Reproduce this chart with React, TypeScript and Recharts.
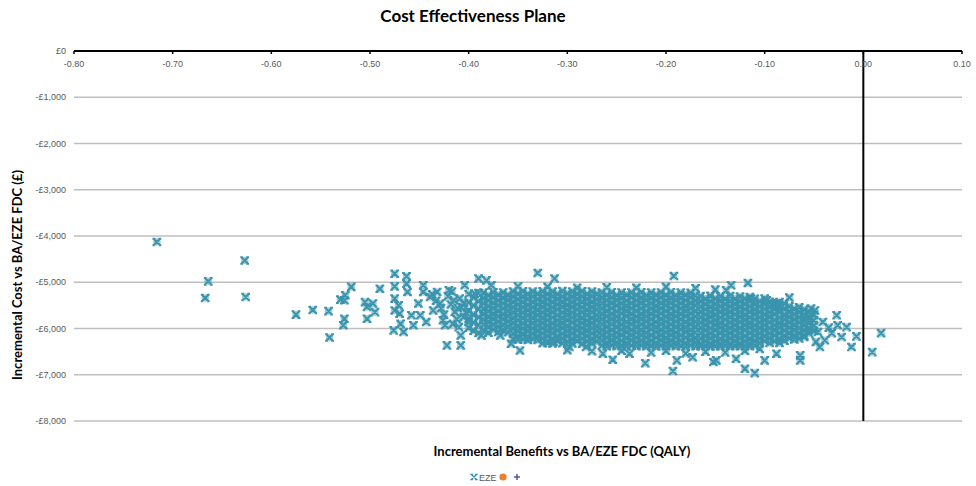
import React from 'react';
import { ScatterChart, Scatter, XAxis, YAxis, CartesianGrid, ReferenceLine, Legend } from 'recharts';

const TEAL = '#3a94ad';
const ORANGE = '#ed7d31';
const PLUS_BLUE = '#4a5aa8';

const xTicks = [-0.8, -0.7, -0.6, -0.5, -0.4, -0.3, -0.2, -0.1, 0, 0.1];
const yTicks = [0, -1000, -2000, -3000, -4000, -5000, -6000, -7000, -8000];

// Individually visible (sparse / edge) simulations
const sparseQaly = [
  -0.716, -0.664, -0.667, -0.627, -0.626, -0.575, -0.558, -0.542, -0.541,
  -0.530, -0.525, -0.526, -0.519, -0.526, -0.527, -0.505, -0.503, -0.497, -0.495, -0.503,
  -0.490, -0.475, -0.475, -0.463, -0.463, -0.462, -0.475, -0.471, -0.475, -0.470,
  -0.469, -0.476, -0.466, -0.458, -0.456, -0.451, -0.446, -0.446, -0.449, -0.443,
  -0.439, -0.436, -0.432, -0.429, -0.424, -0.422, -0.420, -0.415, -0.410, -0.408,
  -0.408, -0.404, -0.407, -0.405, -0.400, -0.394, -0.390, -0.382, -0.387, -0.377,
  -0.368, -0.357, -0.348, -0.330, -0.313, -0.314, -0.298, -0.281, -0.264, -0.254,
  -0.237, -0.221, -0.192, -0.193, -0.189, -0.173, -0.152, -0.149, -0.129, -0.134,
  -0.139, -0.117, -0.114, -0.100, -0.098, -0.088, -0.087, -0.075, -0.120, -0.110,
  -0.100, -0.088, -0.064, -0.064, -0.053, -0.049, -0.041, -0.046, -0.048, -0.039,
  -0.044, -0.027, -0.026, -0.022, -0.017, -0.007, -0.012, 0.018, 0.009, -0.058,
  -0.055, -0.060, -0.035, -0.032,
  -0.437, -0.433, -0.428, -0.425, -0.421, -0.418, -0.414, -0.412, -0.417, -0.409,
  -0.405, -0.403, -0.411, -0.426, -0.416,
  -0.300, -0.275, -0.245, -0.215, -0.200, -0.180, -0.160, -0.140, -0.120, -0.105,
  -0.350, -0.320, -0.290, -0.260, -0.230, -0.200, -0.170, -0.150,
];
const sparseCost = [
  -4130, -4980, -5340, -4530, -5320, -5700, -5600, -5625, -6195,
  -5375, -5280, -5390, -5100, -5790, -5930, -5430, -5535, -5460, -5645, -5790,
  -5140, -4815, -5090, -4870, -5030, -5210, -5355, -5500, -5610, -5680,
  -5900, -6040, -6075, -5715, -5930, -5460, -5065, -5210, -5715, -5860,
  -5320, -5610, -5210, -5460, -5930, -6365, -5175, -5390, -5970, -6150,
  -6365, -5065, -5535, -5750, -5860, -5245, -4920, -4960, -6150, -5065,
  -6150, -6330, -6475, -4800, -4920, -6290, -6400, -6400, -6545, -6675,
  -6545, -6750, -4865, -6920, -6690, -6620, -6725, -6690, -6655, -5065,
  -5175, -5015, -5355, -5355, -5390, -5500, -5455, -5330, -6870, -6965,
  -6690, -6545, -6690, -6580, -5570, -5610, -5860, -6075, -6290, -6255,
  -6400, -5715, -5930, -6185, -5970, -6170, -6400, -6100, -6510, -5790,
  -6020, -6180, -5980, -6100,
  -5260, -5400, -5560, -5700, -5300, -5480, -5640, -5800, -5200, -5350,
  -5450, -5650, -5560, -5820, -5900,
  -6470, -6490, -6480, -6520, -6480, -6540, -6500, -6520, -6480, -6440,
  -5090, -5100, -5120, -5110, -5120, -5100, -5130, -5160,
];

// Dense core of the cloud, read column by column (QALY position, costs in that column)
const cloudQaly = [
  -0.400, -0.395, -0.390, -0.385, -0.380, -0.375, -0.370, -0.365, -0.360, -0.355,
  -0.350, -0.345, -0.340, -0.335, -0.330, -0.325, -0.320, -0.315, -0.310, -0.305,
  -0.300, -0.295, -0.290, -0.285, -0.280, -0.275, -0.270, -0.265, -0.260, -0.255,
  -0.250, -0.245, -0.240, -0.235, -0.230, -0.225, -0.220, -0.215, -0.210, -0.205,
  -0.200, -0.195, -0.190, -0.185, -0.180, -0.175, -0.170, -0.165, -0.160, -0.155,
  -0.150, -0.145, -0.140, -0.135, -0.130, -0.125, -0.120, -0.115, -0.110, -0.105,
  -0.100, -0.095, -0.090, -0.085, -0.080, -0.075, -0.070, -0.065, -0.060, -0.055,
  -0.050,
];
const cloudCost = [
  [-5255, -5440, -5615, -5790, -5985],
  [-5330, -5505, -5700, -5870, -6050],
  [-5235, -5410, -5575, -5755, -5925, -6095],
  [-5225, -5345, -5455, -5575, -5685, -5805, -5915, -6035],
  [-5280, -5395, -5515, -5625, -5745, -5860, -5970, -6090],
  [-5215, -5330, -5450, -5560, -5680, -5790, -5910, -6020],
  [-5270, -5390, -5500, -5620, -5735, -5850, -5960, -6075],
  [-5220, -5335, -5455, -5570, -5690, -5800, -5925, -6040],
  [-5275, -5385, -5505, -5615, -5730, -5845, -5965, -6080],
  [-5200, -5310, -5425, -5540, -5650, -5765, -5880, -5995, -6110, -6225],
  [-5250, -5370, -5480, -5595, -5710, -5820, -5940, -6050, -6165, -6240],
  [-5195, -5315, -5430, -5545, -5655, -5770, -5885, -6000, -6115, -6230],
  [-5255, -5365, -5485, -5600, -5715, -5825, -5945, -6055, -6170, -6245],
  [-5200, -5310, -5425, -5540, -5655, -5765, -5880, -5995, -6110, -6225],
  [-5250, -5370, -5480, -5595, -5710, -5825, -5935, -6050, -6165, -6250],
  [-5195, -5310, -5420, -5535, -5650, -5765, -5875, -5990, -6105, -6215, -6320],
  [-5250, -5365, -5480, -5595, -5705, -5820, -5935, -6050, -6160, -6275, -6315],
  [-5200, -5305, -5425, -5540, -5645, -5760, -5880, -5995, -6100, -6220, -6325],
  [-5255, -5360, -5475, -5590, -5710, -5825, -5930, -6045, -6165, -6270],
  [-5190, -5310, -5420, -5530, -5650, -5770, -5875, -5985, -6110, -6215, -6320],
  [-5245, -5365, -5485, -5600, -5700, -5815, -5940, -6055, -6160, -6280],
  [-5200, -5315, -5425, -5535, -5655, -5760, -5870, -5995, -6105, -6220, -6325],
  [-5250, -5360, -5480, -5590, -5710, -5820, -5935, -6045, -6165, -6270],
  [-5195, -5310, -5420, -5540, -5650, -5765, -5875, -5990, -6100, -6215, -6330],
  [-5255, -5365, -5475, -5595, -5705, -5825, -5930, -6050, -6160, -6275],
  [-5200, -5305, -5425, -5535, -5645, -5770, -5880, -5990, -6105, -6220, -6325],
  [-5250, -5370, -5480, -5590, -5710, -5815, -5940, -6050, -6165, -6280],
  [-5220, -5335, -5450, -5565, -5680, -5795, -5910, -6025, -6140, -6255, -6370],
  [-5275, -5390, -5505, -5620, -5735, -5850, -5965, -6080, -6195, -6310, -6385],
  [-5215, -5330, -5445, -5560, -5685, -5790, -5905, -6030, -6145, -6250, -6365],
  [-5280, -5385, -5500, -5625, -5740, -5845, -5960, -6085, -6190, -6305, -6380],
  [-5225, -5340, -5455, -5570, -5675, -5800, -5915, -6020, -6135, -6260, -6375],
  [-5270, -5395, -5510, -5615, -5730, -5855, -5970, -6075, -6200, -6315, -6390],
  [-5220, -5330, -5450, -5560, -5680, -5795, -5905, -6025, -6140, -6250, -6370],
  [-5275, -5390, -5500, -5620, -5740, -5850, -5960, -6080, -6195, -6305, -6385],
  [-5215, -5335, -5445, -5565, -5685, -5790, -5910, -6030, -6140, -6255, -6365],
  [-5280, -5385, -5505, -5625, -5735, -5845, -5965, -6085, -6190, -6310, -6385],
  [-5225, -5340, -5455, -5570, -5680, -5800, -5915, -6020, -6145, -6260, -6375],
  [-5270, -5390, -5510, -5615, -5730, -5855, -5970, -6075, -6195, -6315, -6390],
  [-5220, -5330, -5450, -5560, -5675, -5795, -5905, -6025, -6140, -6250, -6370],
  [-5275, -5395, -5500, -5620, -5740, -5850, -5960, -6080, -6200, -6305, -6385],
  [-5215, -5335, -5445, -5565, -5685, -5790, -5910, -6030, -6135, -6255, -6365],
  [-5280, -5385, -5505, -5625, -5735, -5845, -5965, -6085, -6190, -6310, -6380],
  [-5225, -5340, -5455, -5570, -5680, -5800, -5915, -6020, -6145, -6260, -6375],
  [-5270, -5390, -5510, -5615, -5730, -5855, -5970, -6075, -6195, -6315, -6390],
  [-5230, -5330, -5450, -5560, -5675, -5795, -5905, -6025, -6140, -6250, -6370],
  [-5285, -5395, -5500, -5620, -5740, -5850, -5960, -6080, -6200, -6305, -6385],
  [-5300, -5410, -5525, -5640, -5755, -5870, -5985, -6100, -6215, -6330, -6385],
  [-5355, -5470, -5585, -5695, -5810, -5925, -6040, -6155, -6270, -6375],
  [-5295, -5415, -5530, -5645, -5750, -5865, -5990, -6105, -6210, -6325, -6390],
  [-5350, -5465, -5580, -5700, -5815, -5920, -6035, -6160, -6275, -6380],
  [-5305, -5405, -5520, -5635, -5760, -5875, -5980, -6095, -6220, -6335, -6385],
  [-5360, -5475, -5590, -5690, -5805, -5930, -6045, -6150, -6265, -6370],
  [-5300, -5410, -5525, -5640, -5755, -5870, -5985, -6100, -6215, -6330, -6380],
  [-5355, -5470, -5580, -5695, -5815, -5925, -6040, -6155, -6270, -6375],
  [-5310, -5415, -5530, -5645, -5750, -5865, -5990, -6105, -6210, -6325, -6385],
  [-5350, -5465, -5585, -5700, -5810, -5920, -6035, -6160, -6275, -6380],
  [-5320, -5405, -5520, -5635, -5760, -5875, -5980, -6095, -6220, -6335, -6380],
  [-5360, -5475, -5590, -5690, -5805, -5930, -6045, -6150, -6265, -6370],
  [-5410, -5525, -5640, -5755, -5870, -5985, -6100, -6215, -6320],
  [-5465, -5580, -5695, -5810, -5925, -6040, -6155, -6270],
  [-5420, -5530, -5645, -5750, -5865, -5990, -6105, -6210, -6315],
  [-5470, -5585, -5690, -5815, -5930, -6035, -6150, -6275],
  [-5430, -5520, -5635, -5760, -5875, -5980, -6095, -6220, -6310],
  [-5460, -5575, -5700, -5805, -5920, -6045, -6160, -6265],
  [-5520, -5635, -5750, -5865, -5980, -6095, -6210],
  [-5575, -5690, -5805, -5920, -6035, -6150, -6235],
  [-5540, -5645, -5760, -5870, -5990, -6100, -6215],
  [-5590, -5695, -5810, -5925, -6040, -6155],
  [-5650, -5765, -5880, -5995, -6105],
  [-5705, -5820, -5935, -6050],
];

type Pt = { qaly: number; cost: number };

const ezePoints: Pt[] = [
  ...cloudQaly.flatMap((q, i) => cloudCost[i].map((c) => ({ qaly: q, cost: c }))),
  ...sparseQaly.map((q, i) => ({ qaly: q, cost: sparseCost[i] })),
];

const fmtQaly = (v: number) => v.toFixed(2);
const fmtCost = (v: number) =>
  v === 0 ? '£0' : '-£' + Math.abs(v).toString().replace(/\B(?=(\d{3})+(?!\d))/g, ',');

const markPath = (cx: number, cy: number, r: number) => {
  const s = 1.1;
  return (
    `M${cx - r},${cy - r}L${cx + r},${cy + r}M${cx + r},${cy - r}L${cx - r},${cy + r}` +
    `M${cx - r - s},${cy - r}H${cx - r + s + 0.6}M${cx + r - s - 0.6},${cy - r}H${cx + r + s}` +
    `M${cx - r - s},${cy + r}H${cx - r + s + 0.6}M${cx + r - s - 0.6},${cy + r}H${cx + r + s}`
  );
};

const XMark = (props: any) => {
  const { cx, cy } = props;
  if (cx == null || cy == null) return <g />;
  return (
    <g>
      <circle cx={cx} cy={cy} r={3.8} fill={TEAL} fillOpacity={0.45} />
      <path d={markPath(cx, cy, 3.3)} stroke={TEAL} strokeWidth={2} fill="none" />
    </g>
  );
};

const LegendContent = () => (
  <svg width={976} height={16} style={{ display: 'block' }}>
    <path d={markPath(474, 8, 2.6)} stroke={TEAL} strokeWidth={1.4} fill="none" />
    <text x={479} y={11.5} fontSize={9} fill="#595959" fontFamily="'Liberation Sans', Arial, sans-serif">
      EZE
    </text>
    <circle cx={503} cy={8} r={3.6} fill={ORANGE} />
    <path d="M514,8H520M517,5V11" stroke={PLUS_BLUE} strokeWidth={1.5} />
  </svg>
);

const tickStyle = { fontSize: 9, fill: '#595959', fontFamily: "'Liberation Sans', Arial, sans-serif" };
const labelFont = "Lato, 'Liberation Sans', Arial, sans-serif";

export default function App() {
  return (
    <div style={{ position: 'absolute', left: 0, top: 0, width: 976, height: 486, background: '#fff' }}>
      <ScatterChart width={976} height={486} margin={{ top: 51, right: 14, bottom: 65, left: 0 }}>
        <CartesianGrid vertical={false} stroke="#bfbfbf" strokeWidth={1.5} />
        <XAxis
          type="number"
          dataKey="qaly"
          orientation="top"
          mirror
          domain={[-0.8, 0.1]}
          ticks={xTicks}
          tickFormatter={fmtQaly}
          allowDataOverflow
          axisLine={{ stroke: '#000', strokeWidth: 2 }}
          tickLine={{ stroke: '#000', strokeWidth: 1.5 }}
          tickSize={3}
          tickMargin={7}
          tick={tickStyle}
        />
        <YAxis
          type="number"
          dataKey="cost"
          domain={[-8000, 0]}
          ticks={yTicks}
          tickFormatter={fmtCost}
          allowDataOverflow
          axisLine={false}
          tickLine={false}
          tickSize={0}
          tickMargin={8}
          width={74}
          tick={tickStyle}
        />
        <ReferenceLine x={0} stroke="#000" strokeWidth={2} />
        <Scatter name="EZE" data={ezePoints} fill={TEAL} shape={XMark} isAnimationActive={false} />
        <Legend
          verticalAlign="middle"
          align="center"
          layout="horizontal"
          wrapperStyle={{ top: 469, left: 0, width: 976, height: 16 }}
          content={LegendContent}
        />
      </ScatterChart>
      <div
        style={{
          position: 'absolute', left: 0, top: 6, width: 946, textAlign: 'center',
          fontFamily: labelFont, fontWeight: 700, fontSize: 17, color: '#000', lineHeight: '20px',
        }}
      >
        Cost Effectiveness Plane
      </div>
      <div
        style={{
          position: 'absolute', left: 362, top: 443, width: 400, textAlign: 'center',
          fontFamily: labelFont, fontWeight: 700, fontSize: 13, color: '#000', lineHeight: '16px',
        }}
      >
        Incremental Benefits vs BA/EZE FDC (QALY)
      </div>
      <div
        style={{
          position: 'absolute', left: 17 - 150, top: 275 - 9, width: 300, height: 18, textAlign: 'center',
          fontFamily: labelFont, fontWeight: 700, fontSize: 13, color: '#000', lineHeight: '18px',
          transform: 'rotate(-90deg)',
        }}
      >
        Incremental Cost vs BA/EZE FDC (£)
      </div>
    </div>
  );
}
